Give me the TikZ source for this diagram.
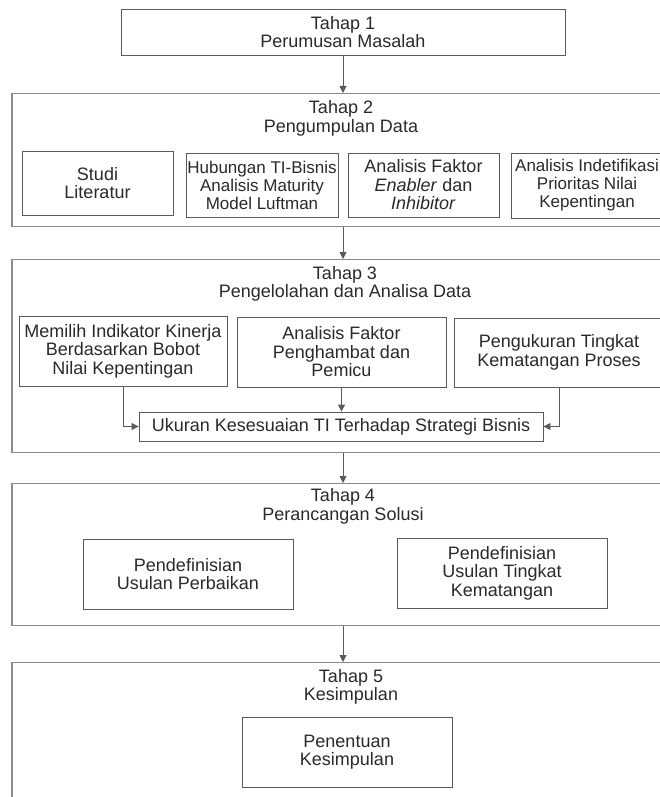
\documentclass[tikz,border=0pt]{standalone}
\usepackage{fontspec}
\setmainfont{Liberation Sans}
\usetikzlibrary{arrows.meta}
\newcommand\bodyfs{\fontsize{18}{18.5}\selectfont}
\newcommand\smallfs{\fontsize{17}{18}\selectfont}
\definecolor{txt}{HTML}{2A2A2A}
\definecolor{ln}{HTML}{5A5A5A}
\definecolor{stg}{HTML}{8A8A8A}
\begin{document}
\begin{tikzpicture}[x=1pt,y=-1pt,
  stagebox/.style={draw=stg, line width=1.3pt, inner sep=0pt, anchor=north},
  title/.style={text=txt, align=center, font=\bodyfs, inner sep=0pt},
  inbox/.style={draw=ln, line width=0.9pt, inner sep=0pt, align=center, text=txt, font=\bodyfs},
  arr/.style={draw=ln, line width=0.9pt, -{Triangle[length=7pt,width=7pt]}}
]
\useasboundingbox (0,0) rectangle (660,797);
\clip (0,0) rectangle (660,797);
\fill[white] (0,0) rectangle (660,797);

% Tahap 1
\node[inbox, minimum width=444, minimum height=46] (t1) at (343,32) {Tahap 1\\Perumusan Masalah};

% Tahap 2
\node[stagebox, minimum width=662, minimum height=133] (t2) at (343,93) {};
\node[title] (t2t) at (341,118.5) {Tahap 2\\Pengumpulan Data};
\node[inbox, minimum width=151, minimum height=64] (studi) at (97.5,183) {Studi\\Literatur};
\node[inbox, font=\smallfs, minimum width=152, minimum height=64] (hub) at (262,185) {Hubungan TI-Bisnis\\Analisis Maturity\\Model Luftman};
\node[inbox, minimum width=151, minimum height=64] (enab) at (423.5,185) {Analisis Faktor\\\textit{Enabler} dan\\\textit{Inhibitor}};
\node[inbox, font=\smallfs, minimum width=152, minimum height=65] (prio) at (587,185.5) {Analisis Indetifikasi\\Prioritas Nilai\\Kepentingan};

% Tahap 3
\node[stagebox, minimum width=662, minimum height=193] (t3) at (343,259) {};
\node[title] (t3t) at (345,284) {Tahap 3\\Pengelolahan dan Analisa Data};
\node[inbox, minimum width=208, minimum height=70] (memilih) at (123,351) {Memilih Indikator Kinerja\\Berdasarkan Bobot\\Nilai Kepentingan};
\node[inbox, minimum width=209, minimum height=70] (hambat) at (341.5,352) {Analisis Faktor\\Penghambat dan\\Pemicu};
\node[inbox, minimum width=210, minimum height=69] (ukur) at (559,352.5) {Pengukuran Tingkat\\Kematangan Proses};
\node[inbox, minimum width=404, minimum height=29] (ukuran) at (341,426.5) {Ukuran Kesesuaian TI Terhadap Strategi Bisnis};
\draw[arr] (memilih.south) |- (ukuran.west);
\draw[arr] (hambat.south) -- (hambat.south |- ukuran.north);
\draw[arr] (ukur.south) |- (ukuran.east);

% Tahap 4
\node[stagebox, minimum width=662, minimum height=142] (t4) at (343,483) {};
\node[title] (t4t) at (343,506.5) {Tahap 4\\Perancangan Solusi};
\node[inbox, minimum width=210, minimum height=70] (perb) at (188,574) {Pendefinisian\\Usulan Perbaikan};
\node[inbox, minimum width=210, minimum height=70] (ting) at (502,573) {Pendefinisian\\Usulan Tingkat\\Kematangan};

% Tahap 5
\node[stagebox, minimum width=662, minimum height=160] (t5) at (343,662) {};
\node[title] (t5t) at (351,687) {Tahap 5\\Kesimpulan};
\node[inbox, minimum width=210, minimum height=70] (penentuan) at (347,752) {Penentuan\\Kesimpulan};

% main arrows
\draw[arr] (t1.south) -- (t2.north);
\draw[arr] (t2.south) -- (t3.north);
\draw[arr] (t3.south) -- (t4.north);
\draw[arr] (t4.south) -- (t5.north);
\end{tikzpicture}
\end{document}
